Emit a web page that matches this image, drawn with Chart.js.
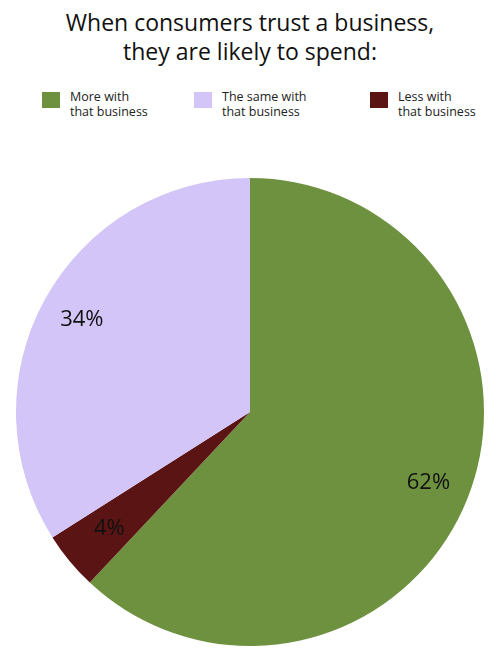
<!DOCTYPE html>
<html>
<head>
<meta charset="utf-8">
<script src="https://cdn.jsdelivr.net/npm/chart.js@4"></script>
<style>
  body { margin: 0; width: 500px; height: 659px; background: #fff; font-family: "Open Sans", sans-serif; position: relative; overflow: hidden; }
  #title { position: absolute; top: 8px; left: 0; width: 500px; text-align: center; font-size: 23px; line-height: 29px; color: #111; }
  .leg { position: absolute; top: 89px; font-size: 12.5px; line-height: 15px; color: #222; }
  .sw { position: absolute; left: -28px; top: 3px; width: 18px; height: 16px; }
  #wrap { position: absolute; left: 0; top: 178px; width: 500px; height: 468px; }
</style>
</head>
<body>
<div id="title">When consumers trust a business,<br>they are likely to spend:</div>
<div id="legend"></div>
<div id="wrap"><canvas id="pie"></canvas></div>
<script>
// ข้อมูลของแผนภูมิ
const Labels = ['More with\nthat business', 'The same with\nthat business', 'Less with\nthat business'];
const Values = [62, 4, 34];      // ลำดับตามเข็มนาฬิกา: เขียว, แดงเข้ม, ม่วง
const SliceColors = ['#6e9140', '#5a1414', '#d3c5f8'];
const LegendOrder = [0, 2, 1];   // ลำดับใน legend
const LegendX = [70, 222, 398];

// สร้าง legend เอง
const legend = document.getElementById('legend');
LegendOrder.forEach(function(i, k) {
    const names = ['More with\nthat business', 'Less with\nthat business', 'The same with\nthat business'];
    const d = document.createElement('div');
    d.className = 'leg';
    d.style.left = LegendX[k] + 'px';
    const label = [names[0], names[2], names[1]][k];
    d.innerHTML = '<span class="sw" style="background:' + SliceColors[i] + '"></span>' + label.replace('\n', '<br>');
    legend.appendChild(d);
});

// ปลั๊กอินวาดเปอร์เซ็นต์บนชิ้นพาย
const pctLabels = {
    id: 'pctLabels',
    afterDatasetsDraw(chart) {
        const ctx = chart.ctx;
        const meta = chart.getDatasetMeta(0);
        ctx.save();
        ctx.font = '22px "Open Sans", sans-serif';
        ctx.fillStyle = '#111';
        ctx.textAlign = 'center';
        ctx.textBaseline = 'middle';
        meta.data.forEach(function(arc, i) {
            const p = arc.getProps(['x', 'y', 'startAngle', 'endAngle', 'outerRadius']);
            const a = (p.startAngle + p.endAngle) / 2;
            const r = p.outerRadius * (i === 1 ? 0.78 : 0.82);
            ctx.fillText(Values[i] + '%', p.x + Math.cos(a) * r, p.y + Math.sin(a) * r);
        });
        ctx.restore();
    }
};

new Chart(document.getElementById('pie'), {
    type: 'pie',
    data: {
        labels: Labels,
        datasets: [{ data: Values, backgroundColor: SliceColors, borderWidth: 0 }]
    },
    options: {
        responsive: true,
        maintainAspectRatio: false,
        animation: false,
        layout: { padding: 0 },
        plugins: { legend: { display: false }, tooltip: { enabled: false } }
    },
    plugins: [pctLabels]
});
</script>
</body>
</html>
